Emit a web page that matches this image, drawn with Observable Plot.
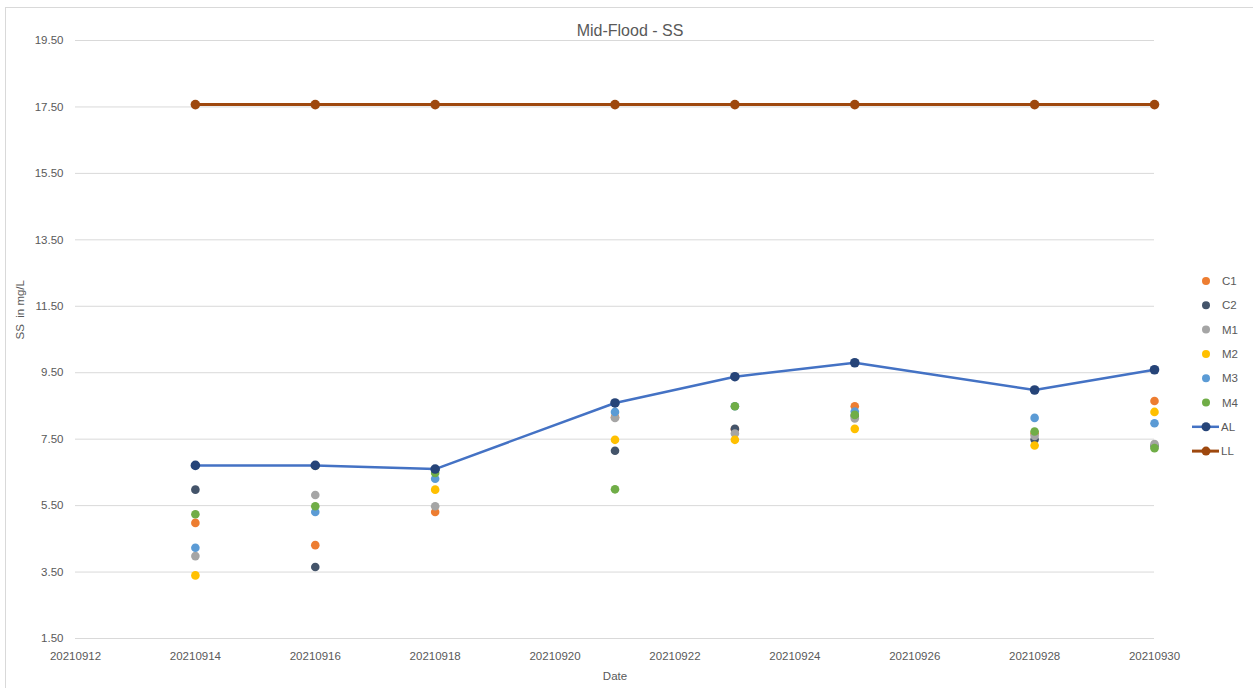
<!DOCTYPE html>
<html>
<head>
<meta charset="utf-8">
<script src="https://cdn.jsdelivr.net/npm/d3@7"></script>
<script src="https://cdn.jsdelivr.net/npm/@observablehq/plot@0.6"></script>
<style>
  html, body { margin: 0; padding: 0; background: #fff; }
  #wrap { position: relative; width: 1253px; height: 688px; overflow: hidden; font-family: "Liberation Sans", Arial, sans-serif; }
  #border { position: absolute; left: 5px; top: 7px; width: 1260px; height: 700px; border: 1px solid #d9d9d9; box-sizing: border-box; }
  #title { position: absolute; left: 0; top: 22px; width: 1260px; text-align: center; font-size: 16px; color: #595959; }
  #chart { position: absolute; left: 0; top: 0; }
  #legend { position: absolute; left: 0; top: 0; }
</style>
</head>
<body>
<div id="wrap">
  <div id="border"></div>
  <div id="chart"></div>
  <div id="title">Mid-Flood - SS</div>
  <svg id="legend" width="1253" height="688"></svg>
</div>
<script>
const dates = [20210914, 20210916, 20210918, 20210921, 20210923, 20210925, 20210928, 20210930];
const C1 = [4.98, 4.31, 5.31, 8.16, 7.80, 8.49, 7.67, 8.65];
const C2 = [5.98, 3.65, 6.58, 7.15, 7.81, 8.20, 7.49, 7.30];
const M1 = [3.98, 5.82, 5.48, 8.14, 7.67, 8.12, 7.60, 7.35];
const M2 = [3.40, 6.70, 5.98, 7.48, 7.48, 7.81, 7.31, 8.32];
const M3 = [4.23, 5.31, 6.31, 8.32, 8.49, 8.33, 8.14, 7.98];
const M4 = [5.24, 5.48, 6.48, 5.99, 8.49, 8.23, 7.73, 7.23];
const AL = [6.71, 6.71, 6.60, 8.59, 9.38, 9.80, 8.98, 9.59];
const LL = [17.57, 17.57, 17.57, 17.57, 17.57, 17.57, 17.57, 17.57];

const xTicks = d3.range(20210912, 20210931, 2);
const yTicks = d3.range(1.5, 19.51, 2);

const scatterSeries = [
  {name: "C1", values: C1, color: "#ED7D31"},
  {name: "C2", values: C2, color: "#44546A"},
  {name: "M1", values: M1, color: "#A5A5A5"},
  {name: "M2", values: M2, color: "#FFC000"},
  {name: "M3", values: M3, color: "#5B9BD5"},
  {name: "M4", values: M4, color: "#70AD47"}
];
const lineSeries = [
  {name: "AL", values: AL, line: "#4472C4", marker: "#264478", width: 2.5},
  {name: "LL", values: LL, line: "#9E480E", marker: "#9E480E", width: 3}
];

const toRows = s => dates.map((d, i) => ({date: d, value: s.values[i]}));

const marks = [
  Plot.ruleY(yTicks, {stroke: "#d9d9d9", strokeWidth: 1}),
  Plot.axisY({ticks: yTicks, tickFormat: d => d.toFixed(2), tickSize: 0, tickPadding: 12, label: null, fill: "#595959", fontSize: 11.5}),
  Plot.axisX({ticks: xTicks, tickFormat: d => String(d), tickSize: 0, tickPadding: 13, label: null, fill: "#595959", fontSize: 11.5}),
  Plot.text(["SS  in mg/L"], {frameAnchor: "left", dx: -55, rotate: -90, fill: "#595959", fontSize: 11.5}),
  Plot.text(["Date"], {frameAnchor: "bottom", dy: 41, fill: "#595959", fontSize: 11.5})
];
for (const s of scatterSeries) {
  marks.push(Plot.dot(toRows(s), {x: "date", y: "value", r: 4.3, fill: s.color, stroke: "none"}));
}
for (const s of lineSeries) {
  marks.push(Plot.line(toRows(s), {x: "date", y: "value", stroke: s.line, strokeWidth: s.width}));
  marks.push(Plot.dot(toRows(s), {x: "date", y: "value", r: 4.8, fill: s.marker, stroke: "none"}));
}

const chart = Plot.plot({
  width: 1253,
  height: 688,
  marginLeft: 75,
  marginRight: 99,
  marginTop: 40,
  marginBottom: 50,
  style: {fontFamily: "Liberation Sans, Arial, sans-serif", background: "transparent", overflow: "visible"},
  x: {domain: [20210912, 20210930], axis: null},
  y: {domain: [1.5, 19.5], axis: null},
  marks
});
document.getElementById("chart").appendChild(chart);

// Legend
const leg = d3.select("#legend");
const items = [...scatterSeries.map(s => ({...s, type: "dot"})), ...lineSeries.map(s => ({...s, type: "line"}))];
items.forEach((s, i) => {
  const y = 281 + i * 24.3;
  if (s.type === "dot") {
    leg.append("circle").attr("cx", 1206).attr("cy", y).attr("r", 4).attr("fill", s.color);
  } else {
    leg.append("line").attr("x1", 1192).attr("x2", 1219).attr("y1", y).attr("y2", y)
      .attr("stroke", s.line).attr("stroke-width", s.width);
    leg.append("circle").attr("cx", 1206).attr("cy", y).attr("r", 4.5).attr("fill", s.marker);
  }
  leg.append("text").attr("x", s.type === "dot" ? 1222 : 1221).attr("y", y).attr("dy", "0.35em")
    .attr("font-size", 11.5).attr("fill", "#595959").attr("font-family", "Liberation Sans, Arial, sans-serif")
    .text(s.name);
});
</script>
</body>
</html>
